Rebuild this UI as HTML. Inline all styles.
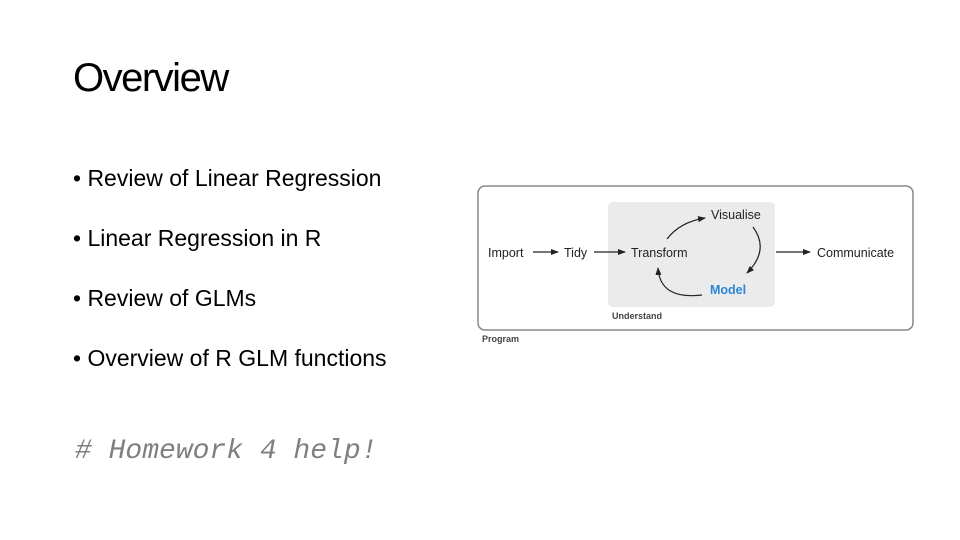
<!DOCTYPE html>
<html><head><meta charset="utf-8"><style>
body{margin:0;width:960px;height:540px;background:#fff;position:relative;overflow:hidden;font-family:"Liberation Sans",sans-serif;color:#000}
.t{position:absolute;left:73px;top:56px;font-size:40px;letter-spacing:-1.5px}
.b{position:absolute;left:73px;font-size:23px;white-space:nowrap}
.h{position:absolute;left:75px;top:436px;font-family:"Liberation Mono",monospace;font-style:italic;font-size:28px;color:#7f7f7f;white-space:nowrap}
</style></head><body>
<div class="t">Overview</div>
<div class="b" style="top:165px">• Review of Linear Regression</div>
<div class="b" style="top:225px">• Linear Regression in R</div>
<div class="b" style="top:285px">• Review of GLMs</div>
<div class="b" style="top:345px">• Overview of R GLM functions</div>
<div class="h"># Homework 4 help!</div>
<svg style="position:absolute;left:0;top:0" width="960" height="540" font-family="Liberation Sans,sans-serif">
<defs><marker id="a" markerWidth="8" markerHeight="8" refX="7" refY="4" orient="auto" markerUnits="userSpaceOnUse"><path d="M0,1 L8,4 L0,7z" fill="#222"/></marker></defs>
<rect x="478" y="186" width="435" height="144" rx="7" fill="#fff" stroke="#888" stroke-width="1.5"/>
<rect x="608" y="202" width="167" height="105" rx="5" fill="#ebebeb"/>
<g font-size="12.5" fill="#222">
<text x="488" y="257">Import</text>
<text x="564" y="257">Tidy</text>
<text x="631" y="257">Transform</text>
<text x="711" y="219">Visualise</text>
<text x="817" y="257">Communicate</text>
<text x="710" y="294" fill="#2a86d8" font-weight="bold">Model</text>
</g>
<text x="612" y="319" font-size="9" font-weight="bold" fill="#444">Understand</text>
<text x="482" y="342" font-size="9" font-weight="bold" fill="#444">Program</text>
<g stroke="#222" stroke-width="1.2" fill="none" marker-end="url(#a)">
<line x1="533" y1="252" x2="558" y2="252"/>
<line x1="594" y1="252" x2="625" y2="252"/>
<line x1="776" y1="252" x2="810" y2="252"/>
<path d="M667,239 Q680,222 705,218"/>
<path d="M753,227 Q770,250 747,273"/>
<path d="M702,295 Q660,300 658,268"/>
</g>
</svg>
</body></html>
